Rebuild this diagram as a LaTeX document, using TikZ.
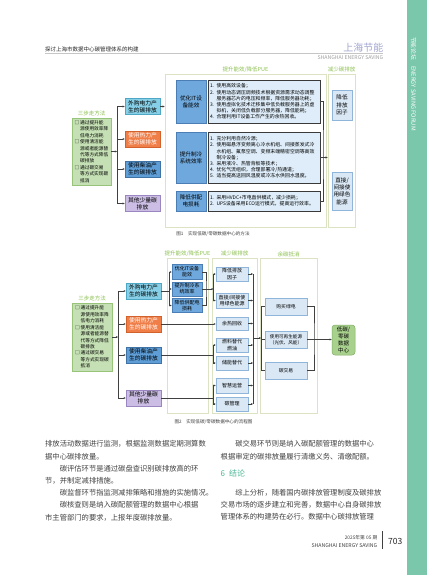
\documentclass[tikz,border=0pt]{standalone}
\usepackage{fontspec}
\setmainfont{Noto Sans CJK SC}
\usetikzlibrary{positioning,arrows.meta}

\XeTeXlinebreaklocale "zh"
\XeTeXlinebreakskip=0pt plus 1pt minus 0.4pt

\definecolor{bandgreen}{HTML}{7AC7AC}
\definecolor{hdrpurple}{HTML}{A3A6CF}
\definecolor{textdark}{HTML}{262626}
\definecolor{textgray}{HTML}{404040}
\definecolor{labelgreen}{HTML}{8DC152}
\definecolor{headteal}{HTML}{4DB897}
\definecolor{panelline}{HTML}{DCE3C3}
\definecolor{methodfill}{HTML}{C5E0B4}
\definecolor{methodline}{HTML}{97C47A}
\definecolor{cyanfill}{HTML}{86CFE6}
\definecolor{cyanline}{HTML}{4FA7C6}
\definecolor{orangefill}{HTML}{F07E48}
\definecolor{orangeline}{HTML}{D2612C}
\definecolor{dieselfill}{HTML}{5E9DD6}
\definecolor{dieselline}{HTML}{3F73A6}
\definecolor{lavfill}{HTML}{CBBDE3}
\definecolor{lavline}{HTML}{9A87C2}
\definecolor{itfill}{HTML}{6FA8DC}
\definecolor{itline}{HTML}{4A7EB4}
\definecolor{notefill}{HTML}{DEEDF9}
\definecolor{noteline}{HTML}{3A3A3A}
\definecolor{softfill}{HTML}{DAE8F6}
\definecolor{softline}{HTML}{8FB5DA}
\definecolor{goalfill}{HTML}{A9D18E}
\definecolor{goalline}{HTML}{7FAF62}
\definecolor{linkgray}{HTML}{404040}

\newcommand\setfs[2]{\fontsize{#1bp}{#2bp}\selectfont}
\newcommand\jline[1]{\makebox[161bp][s]{#1}}

\tikzset{
  linkline/.style={draw=linkgray, line width=0.4bp},
  linkarrow/.style={linkline, -{Stealth[length=2.2bp, width=2bp]}},
  frame/.style={draw=panelline, fill=white, line width=0.7bp},
  framelabel/.style={text=labelgreen, font=\setfs{5.5}{6}},
  methodbox/.style={draw=methodline, fill=methodfill, line width=0.5bp, align=left, font=\setfs{4.7}{6.45}},
  catbox/.style={fill=#1fill, draw=#1line, line width=0.5bp, minimum width=35bp, minimum height=16bp, align=center, font=\setfs{5.8}{7}},
  itbox/.style={fill=itfill, draw=itline, line width=0.5bp, minimum width=30bp, align=center},
  notebox/.style={fill=notefill, draw=noteline, line width=0.5bp, inner xsep=2bp, text width=108bp, align=left, font=\setfs{4.9}{6.2}},
  softbox/.style={fill=softfill, draw=softline, line width=0.5bp, align=center},
  goalbox/.style={fill=goalfill, draw=goalline, line width=0.5bp, rounded corners=3bp, align=center, font=\setfs{5.5}{6.8}},
  capline/.style={text=textgray, font=\setfs{4.6}{5}},
  body/.style={text=textgray, align=left, anchor=north west, font=\setfs{7.3}{12.2}}
}

\begin{document}
\begin{tikzpicture}[x=1bp, y=-1bp, every node/.style={inner sep=0pt}]
  \useasboundingbox (0,0) rectangle (427,575);
  \fill[white] (0,0) rectangle (427,575);
  \fill[bandgreen] (407,0) rectangle (427,575);
  \node[rotate=-90, anchor=west, text=white, font=\setfs{5.8}{6}] (bandtext) at (413.5,37) {节能论坛\quad ENERGY SAVING FORUM};

  % running head
  \node[anchor=west, text=textdark, font=\setfs{5.5}{6}] (runhead) at (45,49) {探讨上海市数据中心碳管理体系的构建};
  \node[anchor=east, text=hdrpurple, font=\setfs{10}{10}] (brand) at (383.5,47.5) {上海节能};
  \draw[gray!45, line width=0.5bp] (45,53) -- (383,53);
  \node[anchor=east, text=gray!75, font=\setfs{5.2}{6}] (brandEn) at (383.5,57.5) {SHANGHAI ENERGY SAVING};

  % figure 1
  \node[frame, minimum width=161bp, minimum height=153bp] (effA) at (245.5,150.5) {};
  \node[framelabel, above=1bp of effA] (effAlab) {提升能效/降低PUE};
  \node[frame, minimum width=27bp, minimum height=153bp] (cutA) at (341.5,150.5) {};
  \node[framelabel, above=1bp of cutA] (cutAlab) {减少碳排放};

  \node[methodbox, minimum width=39bp, minimum height=67bp] (methA) at (91.5,151.5)
    {□\,通过提升能\\\phantom{□\,}源使用效率降\\\phantom{□\,}低电力消耗\\□\,使用清洁能\\\phantom{□\,}源或者能源替\\\phantom{□\,}代等方式降低\\\phantom{□\,}碳排放\\□\,通过碳交易\\\phantom{□\,}等方式实现碳\\\phantom{□\,}抵消};
  \node[framelabel, above=1.5bp of methA] (methAlab) {三步走方法};

  \node[catbox=cyan] (buyA) at (142.5,106.5) {外购电力产\\生的碳排放};
  \node[catbox=orange, text=white] (heatA) at (142.5,139) {使用热力产\\生的碳排放};
  \node[catbox=diesel] (oilA) at (142.5,169) {使用柴油产\\生的碳排放};
  \node[catbox=lav] (restA) at (142.5,203.5) {其他少量碳\\排放};

  \node[itbox, minimum height=43bp, font=\setfs{5.6}{7.2}] (itA) at (191,101.5) {优化IT设\\备能效};
  \node[itbox, minimum height=51bp, font=\setfs{5.6}{7.2}] (coolA) at (191,157.5) {提升制冷\\系统效率};
  \node[itbox, minimum height=20bp, font=\setfs{5.6}{7.2}] (powA) at (191,201) {降低供配\\电损耗};

  \node[notebox, minimum height=43bp] (itnote) at (264,101.5)
    {1. 使用高效设备；\\2. 使用动态调压调频技术根据资源需求动态调整\\\phantom{2. }服务器芯片的电压和频率，降低服务器功耗；\\3. 使用虚拟化技术迁移集中低负载服务器上的虚\\\phantom{3. }拟机，关闭低负载部分服务器，降低能耗；\\4. 合理利用IT设备工作产生的余热回收。};
  \node[notebox, minimum height=51bp] (coolnote) at (264,157.5)
    {1. 充分利用自然冷源；\\2. 使用磁悬浮变频离心冷水机组、间接蒸发式冷\\\phantom{2. }水机组、氟泵空调、变频末端精密空调等高效\\\phantom{2. }制冷设备；\\3. 采用液冷、热管背板等技术；\\4. 优化气流组织，合理部署冷/热通道；\\5. 适当提高送回风温度或冷冻水供回水温度。};
  \node[notebox, minimum height=20bp] (pownote) at (264,201)
    {1. 采用HVDC+市电直供模式，减少损耗；\\2. UPS设备采用ECO运行模式，提高运行效率。};

  \node[softbox, minimum width=20bp, minimum height=30bp, font=\setfs{5.6}{7.4}] (facA) at (342,105) {降低\\排放\\因子};
  \node[softbox, minimum width=20bp, minimum height=38bp, font=\setfs{5.6}{7.4}] (greenA) at (342,191) {直接/\\间接使\\用绿色\\能源};

  \coordinate (busA) at (117,151.5);
  \draw[linkarrow] (methA.east) -- (busA);
  \draw[linkarrow] (busA) |- (buyA.west);
  \draw[linkarrow] (busA) |- (heatA.west);
  \draw[linkarrow] (busA) |- (oilA.west);
  \draw[linkarrow] (busA) |- (restA.west);
  \draw[linkarrow] (buyA.east) -- (buyA.east -| effA.west);
  \coordinate (joinA) at (323,157.5);
  \draw[linkline] (itnote.east) -| (joinA) |- (pownote.east);
  \draw[linkline] (coolnote.east) -- (joinA);
  \draw[linkarrow] (joinA) -- (joinA -| cutA.west);

  \node[capline] (capA) at (213,234) {图1\quad 实现低碳/零碳数据中心的方法};

  % figure 2
  \node[frame, minimum width=41bp, minimum height=155bp] (effB) at (187.5,335.5) {};
  \node[framelabel, above=1bp of effB] (effBlab) {提升能效/降低PUE};
  \node[frame, minimum width=45bp, minimum height=155bp] (cutB) at (234.5,335.5) {};
  \node[framelabel, above=1bp of cutB] (cutBlab) {减少碳排放};
  \node[frame, minimum width=57bp, minimum height=155bp] (offB) at (288.5,335.5) {};
  \node[framelabel, above=1bp of offB] (offBlab) {余碳抵消};

  \node[methodbox, minimum width=40bp, minimum height=68bp] (methB) at (92,337)
    {□\,通过提升能\\\phantom{□\,}源使用效率降\\\phantom{□\,}低电力消耗\\□\,使用清洁能\\\phantom{□\,}源或者能源替\\\phantom{□\,}代等方式降低\\\phantom{□\,}碳排放\\□\,通过碳交易\\\phantom{□\,}等方式实现碳\\\phantom{□\,}抵消};
  \node[framelabel, above=1.5bp of methB] (methBlab) {三步走方法};

  \node[catbox=cyan] (buyB) at (143.5,291) {外购电力产\\生的碳排放};
  \node[catbox=orange, text=white] (heatB) at (143.5,324) {使用热力产\\生的碳排放};
  \node[catbox=diesel] (oilB) at (143.5,355) {使用柴油产\\生的碳排放};
  \node[catbox=lav] (restB) at (143.5,398) {其他少量碳\\排放};

  \node[itbox, minimum height=15bp, font=\setfs{5}{6}] (itB) at (187,272) {优化IT设备\\能效};
  \node[itbox, minimum height=14bp, font=\setfs{5}{6}] (coolB) at (187,289) {提升制冷系\\统效率};
  \node[itbox, minimum height=14bp, font=\setfs{5}{6}] (powB) at (187,305.5) {降低供配电\\损耗};

  \node[softbox, minimum width=32bp, minimum height=14bp, font=\setfs{5}{6.2}] (facB) at (232,274) {降低排放\\因子};
  \node[softbox, minimum width=32bp, minimum height=15bp, font=\setfs{5}{6.2}] (greenB) at (232,300.5) {直接/间接使\\用绿色能源};
  \node[softbox, minimum width=32bp, minimum height=13bp, font=\setfs{5}{6.2}] (wasteB) at (232,323.5) {余热回收};
  \node[softbox, minimum width=32bp, minimum height=14bp, font=\setfs{5}{6.2}] (fuelB) at (232,345) {燃料替代\\燃油};
  \node[softbox, minimum width=32bp, minimum height=14bp, font=\setfs{5}{6.2}] (storB) at (232,363) {储能替代};
  \node[softbox, minimum width=32bp, minimum height=15bp, font=\setfs{5}{6.2}] (smartB) at (232,385.5) {智慧运营};
  \node[softbox, minimum width=32bp, minimum height=14bp, font=\setfs{5}{6.2}] (carbB) at (232,404) {碳管理};

  \node[softbox, minimum width=42bp, minimum height=17bp, font=\setfs{4.8}{6.2}] (gpB) at (286,306.5) {购买绿电};
  \node[softbox, minimum width=42bp, minimum height=17bp, font=\setfs{4.6}{6}] (renB) at (286,339.5) {使用可再生能源\\（光伏、风能）};
  \node[softbox, minimum width=42bp, minimum height=17bp, font=\setfs{4.8}{6.2}] (tradeB) at (286,370.5) {碳交易};

  \node[goalbox, minimum width=23bp, minimum height=30bp] (goalB) at (343.5,340) {低碳/\\零碳\\数据\\中心};

  \coordinate (busB) at (118,337);
  \draw[linkarrow] (methB.east) -- (busB);
  \draw[linkarrow] (busB) |- (buyB.west);
  \draw[linkarrow] (busB) |- (heatB.west);
  \draw[linkarrow] (busB) |- (oilB.west);
  \draw[linkarrow] (busB) |- (restB.west);

  \coordinate (itbusB) at (169,291);
  \draw[linkline] (buyB.east) -- (itbusB);
  \draw[linkarrow] (itbusB) |- (itB.west);
  \draw[linkarrow] (itbusB) |- (coolB.west);
  \draw[linkarrow] (itbusB) |- (powB.west);
  \coordinate (itoutB) at (206,289);
  \draw[linkline] (itB.east) -| (itoutB) |- (powB.east);
  \draw[linkline] (coolB.east) -- (itoutB);
  \coordinate (facbusB) at (213.5,289);
  \draw[linkarrow] (itoutB) -- (facbusB);
  \draw[linkarrow] (facbusB) |- (facB.west);
  \draw[linkarrow] (facbusB) |- (greenB.west);

  \draw[linkarrow] (heatB.east) -- (heatB.east -| wasteB.west);
  \coordinate (oilbusB) at (213.5,355);
  \draw[linkline] (oilB.east) -- (oilbusB);
  \draw[linkarrow] (oilbusB) |- (fuelB.west);
  \draw[linkarrow] (oilbusB) |- (storB.west);
  \coordinate (restbusB) at (213.5,398);
  \draw[linkline] (restB.east) -- (restbusB);
  \draw[linkarrow] (restbusB) |- (smartB.west);
  \draw[linkarrow] (restbusB) |- (carbB.west);

  \coordinate (cuttopB) at (253,274);
  \coordinate (cutbotB) at (253,404);
  \draw[linkline] (cuttopB) -- (cutbotB);
  \draw[linkarrow] (facB.east) -- (facB.east -| cuttopB);
  \draw[linkarrow] (greenB.east) -- (greenB.east -| cuttopB);
  \draw[linkarrow] (wasteB.east) -- (wasteB.east -| cuttopB);
  \draw[linkarrow] (fuelB.east) -- (fuelB.east -| cuttopB);
  \draw[linkarrow] (storB.east) -- (storB.east -| cuttopB);
  \draw[linkarrow] (smartB.east) -- (smartB.east -| cuttopB);
  \draw[linkarrow] (carbB.east) -- (carbB.east -| cuttopB);

  \coordinate (offinB) at (253,338);
  \coordinate (offbusB) at (261,338);
  \draw[linkarrow] (offinB) -- (offbusB);
  \draw[linkline] (offbusB) |- (gpB.west);
  \draw[linkline] (offbusB) |- (renB.west);
  \draw[linkline] (offbusB) |- (tradeB.west);
  \coordinate (goalinB) at (314,339.5);
  \draw[linkline] (gpB.east) -| (goalinB) |- (tradeB.east);
  \draw[linkline] (renB.east) -- (goalinB);
  \draw[linkarrow] (goalinB) -- (goalinB -| goalB.west);

  \node[capline] (capB) at (213.5,422) {图2\quad 实现低碳/零碳数据中心的流程图};

  % text columns
  \node[body] (colL) at (45,440.5)
    {\jline{排放活动数据进行监测，根据监测数据定期测算数}\\据中心碳排放量。\\\jline{　　碳评估环节是通过碳盘查识别碳排放高的环}\\节，并制定减排措施。\\\jline{　　碳监督环节指监测减排策略和措施的实施情况。}\\\jline{　　碳核查则是纳入碳配额管理的数据中心根据}\\市主管部门的要求，上报年度碳排放量。};
  \node[body] (colR) at (220.5,440.5)
    {\jline{　　碳交易环节则是纳入碳配额管理的数据中心}\\根据审定的碳排放量履行清缴义务、清缴配额。};
  \node[anchor=west, text=headteal, font=\setfs{8}{9}] (concl) at (220.5,473.3) {6\enspace 结论};
  \node[body] (colR2) at (220.5,488.8)
    {\jline{　　综上分析，随着国内碳排放管理制度及碳排放}\\\jline{交易市场的逐步建立和完善，数据中心自身碳排放}\\\jline{管理体系的构建势在必行。数据中心碳排放管理}};

  % footer
  \node[anchor=east, text=textgray, font=\setfs{4.8}{5}] (issue) at (377.5,538) {2025年第 05 期};
  \node[anchor=east, text=textgray, font=\setfs{5.2}{6}] (brandFoot) at (377.5,546) {SHANGHAI ENERGY SAVING};
  \draw[textgray, line width=0.5bp] (382,531) -- (382,549);
  \node[anchor=west, text=textdark, font=\setfs{8.5}{9}] (pageno) at (388,541.5) {703};
\end{tikzpicture}
\end{document}
